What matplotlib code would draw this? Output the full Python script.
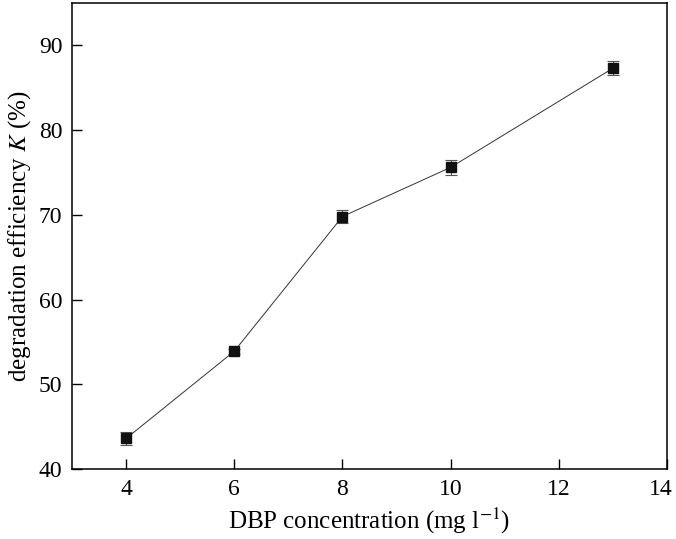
import numpy as np
import matplotlib
matplotlib.use('Agg')
import matplotlib.pyplot as plt
import matplotlib.transforms as mtransforms

plt.rcParams['font.family'] = 'Liberation Serif'
plt.rcParams['mathtext.fontset'] = 'stix'

conc = [4, 6, 8, 10, 13]
eff = [43.6, 53.9, 69.8, 75.6, 87.3]
err = [0.8, 0.3, 0.8, 0.85, 0.8]

fig = plt.figure(figsize=(6.76, 5.39), dpi=100)
ax = fig.add_axes([72/676, 1-469/539, (667-72)/676, (469-3)/539])

ax.plot(conc, eff, color='#333333', linewidth=0.7, zorder=1)
ax.errorbar(conc, eff, yerr=err, fmt='s', color='#111111', markersize=7,
            ecolor='#555555', elinewidth=0.8, capsize=4, capthick=0.8, zorder=2)

ax.set_xlim(3, 14)
ax.set_ylim(40, 95)
ax.set_xticks([4, 6, 8, 10, 12, 14])
ax.set_yticks([40, 50, 60, 70, 80, 90])
ax.tick_params(direction='in', length=7, width=1, labelsize=17, pad=7)
for s in ax.spines.values():
    s.set_linewidth(1.1)

# last x tick label sits on the figure edge, nudge it in a bit
lbl = ax.get_xticklabels()[-1]
lbl.set_transform(lbl.get_transform() + mtransforms.ScaledTranslation(-6/100, 0, fig.dpi_scale_trans))

ax.set_xlabel('DBP concentration (mg l$^{-1}$)', fontsize=18, labelpad=4)
ax.set_ylabel('degradation efficiency $K$ (%)', fontsize=18, labelpad=4)

fig.savefig('out.png', dpi=100)
